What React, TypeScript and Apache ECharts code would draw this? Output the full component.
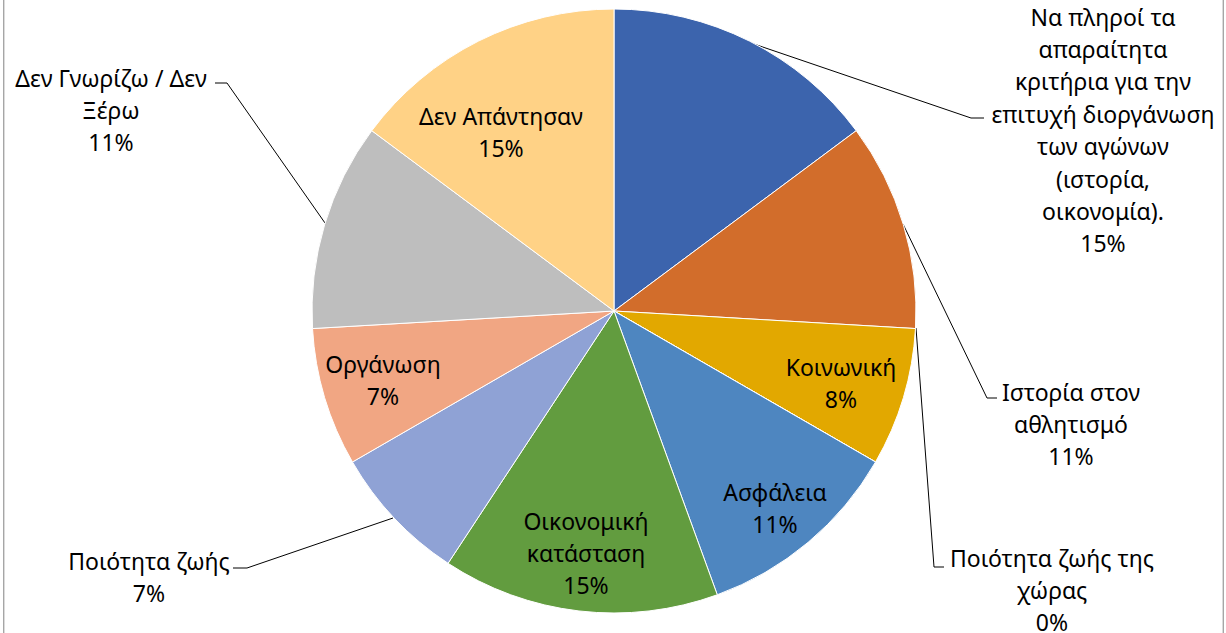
import React, { useEffect, useRef } from "react";
import * as echarts from "echarts";

// ---- data ----
const categories = [
  "Να πληροί τα απαραίτητα κριτήρια για την επιτυχή διοργάνωση των αγώνων (ιστορία, οικονομία).",
  "Ιστορία στον αθλητισμό",
  "Κοινωνική",
  "Ποιότητα ζωής της χώρας",
  "Ασφάλεια",
  "Οικονομική κατάσταση",
  "Ποιότητα ζωής",
  "Οργάνωση",
  "Δεν Γνωρίζω / Δεν Ξέρω",
  "Δεν Απάντησαν",
];
const values = [4, 3, 2, 0, 3, 4, 2, 2, 3, 4];

// label text wrapped as in the picture
const labelLines = [
  ["Να πληροί τα", "απαραίτητα", "κριτήρια για την", "επιτυχή διοργάνωση", "των αγώνων", "(ιστορία,", "οικονομία)."],
  ["Ιστορία στον", "αθλητισμό"],
  ["Κοινωνική"],
  ["Ποιότητα ζωής της", "χώρας"],
  ["Ασφάλεια"],
  ["Οικονομική", "κατάσταση"],
  ["Ποιότητα ζωής"],
  ["Οργάνωση"],
  ["Δεν Γνωρίζω / Δεν", "Ξέρω"],
  ["Δεν Απάντησαν"],
];

// ---- styling / layout ----
const colors = [
  "#3C64AD", "#D26D2B", "#E2A800", "#8C8C8C", "#4E86C0",
  "#629C3F", "#8FA2D5", "#F1A683", "#BEBEBE", "#FFD286",
];
const outside = [true, true, false, true, false, false, true, false, true, false];
const labelPos: number[][] = [
  [1103, 130], [1071, 424], [841, 383], [1052, 590], [775, 508],
  [586, 553], [149, 577], [383, 380], [111, 110], [501, 132],
];
const leaderLines: (number[][] | null)[] = [
  [[748, 42], [971, 118], [984, 118]],
  [[903, 224], [987, 398], [997, 398]],
  null,
  [[916, 328], [934, 567], [944, 567]],
  null,
  null,
  [[393, 518], [247, 568], [233, 568]],
  null,
  [[325, 223], [227, 83], [215, 83]],
  null,
];

export default function App() {
  const ref = useRef<HTMLDivElement>(null);
  useEffect(() => {
    if (!ref.current) return;
    const chart = echarts.init(ref.current, undefined, { renderer: "svg" });
    const data = categories.map((name, i) => ({
      name,
      value: values[i],
      itemStyle: { color: colors[i] },
      label: { position: outside[i] ? "outside" : "inside" },
      labelLine: { show: outside[i] },
    }));
    chart.setOption({
      animation: false,
      backgroundColor: "#ffffff",
      graphic: [
        {
          type: "rect",
          silent: true,
          shape: { x: 3.7, y: -10, width: 1219.6, height: 660 },
          style: { fill: "none", stroke: "#A6A6A6", lineWidth: 1.4 },
        },
      ],
      series: [
        {
          type: "pie",
          center: [614, 311],
          radius: 302,
          startAngle: 90,
          clockwise: true,
          percentPrecision: 0,
          avoidLabelOverlap: false,
          silent: true,
          emphasis: { disabled: true },
          itemStyle: { borderColor: "#ffffff", borderWidth: 1 },
          label: {
            show: true,
            color: "#000000",
            fontFamily: "Noto Sans",
            fontSize: 23,
            lineHeight: 32.4,
            align: "center",
            overflow: "none",
            textBorderWidth: 0,
            formatter: (p: any) =>
              labelLines[p.dataIndex].join("\n") + "\n" + p.percent + "%",
          },
          labelLine: {
            show: true,
            smooth: false,
            lineStyle: { color: "#000000", width: 1 },
          },
          labelLayout: (params: any) => {
            const i = params.dataIndex;
            const res: any = {
              x: labelPos[i][0],
              y: labelPos[i][1],
              align: "center",
              verticalAlign: "middle",
            };
            if (leaderLines[i]) res.labelLinePoints = leaderLines[i];
            return res;
          },
          data,
        },
      ],
    });
    return () => chart.dispose();
  }, []);
  return (
    <div
      ref={ref}
      style={{ position: "absolute", left: 0, top: 0, width: 1226, height: 633 }}
    />
  );
}
